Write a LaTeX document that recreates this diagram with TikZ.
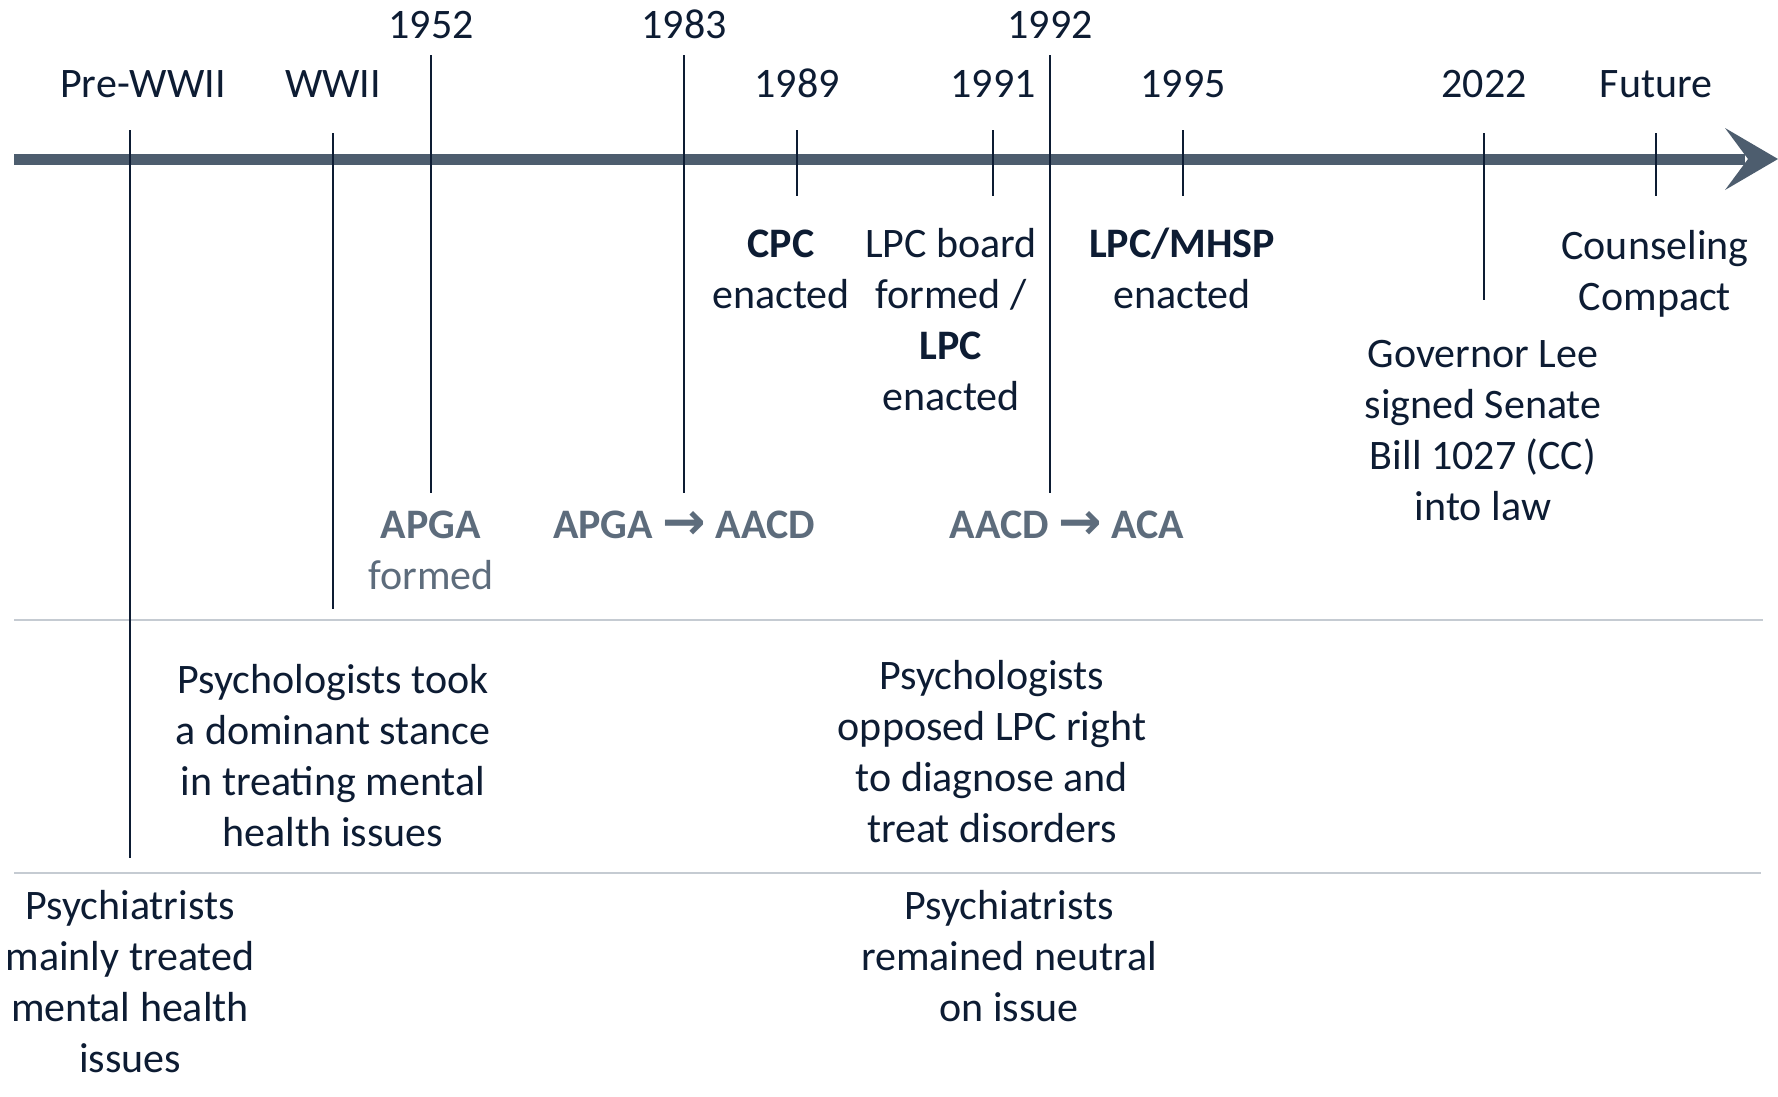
\documentclass[tikz,border=0pt]{standalone}
\usepackage{fontspec}
\setmainfont{Carlito}
\newfontfamily\arrowfont{DejaVu Sans}
\definecolor{navy}{HTML}{0D1C33}
\definecolor{grayt}{HTML}{5D6C7C}
\definecolor{axisc}{HTML}{4D5D6E}
\definecolor{sepgray}{HTML}{C5CBD2}
\newcommand{\fl}{\rule{0pt}{32pt}}
\newcommand{\rarr}{{\fontsize{52}{51}\arrowfont\bfseries\raisebox{-1pt}{→}}}
\begin{document}
\begin{tikzpicture}[x=1pt,y=-1pt,
  every node/.style={inner sep=0pt, text=navy, font=\fontsize{42}{51}\selectfont},
  lbl/.style={anchor=base},
  blk/.style={anchor=north, align=center},
  gry/.style={text=grayt},
  tickln/.style={draw=navy, line width=2.8pt},
  sepln/.style={draw=sepgray, line width=2pt}]
\fill[white] (0,0) rectangle (1778,1096);
\useasboundingbox (0,0) rectangle (1778,1096);

% separators
\coordinate (s1a) at (14,620); \coordinate (s1b) at (1763,620);
\coordinate (s2a) at (14,873); \coordinate (s2b) at (1761,873);
\draw[sepln] (s1a) -- (s1b);
\draw[sepln] (s2a) -- (s2b);

% axis
\coordinate (ax0) at (14,159);
\coordinate (ax1) at (1745,159);
\draw[draw=axisc, line width=11pt] (ax0) -- (ax1);
\fill[axisc] (1725,128) -- (1778,159) -- (1725,190) -- (1748,159) -- cycle;

% tick lines
\foreach \n/\x/\ya/\yb in {pre/130/130/858, ww/333/133/609, a/431/55/493, b/684/55/493,
  c/797/130/196, d/993/130/196, e/1050/55/493, f/1183/130/196, g/1484/133/300, h/1656/133/196}{
  \coordinate (\n t) at (\x,\ya);
  \coordinate (\n b) at (\x,\yb);
  \draw[tickln] (\n t) -- (\n b);
}

% top labels
\node[lbl] (lpre) at (143,97) {Pre-WWII};
\node[lbl] (lww) at (333,97) {WWII};
\node[lbl] (l52) at (431,38) {1952};
\node[lbl] (l83) at (684,38) {1983};
\node[lbl] (l89) at (797,97) {1989};
\node[lbl] (l91) at (993,97) {1991};
\node[lbl] (l92) at (1050,38) {1992};
\node[lbl] (l95) at (1183,97) {1995};
\node[lbl] (l22) at (1484,97) {2022};
\node[lbl] (lfu) at (1656,97) {Future};

% event texts
\node[blk] (cpc) at (781,225) {\fl\textbf{CPC}\\enacted};
\node[blk] (lpcb) at (951,225) {\fl LPC board\\formed /\\\textbf{LPC}\\enacted};
\node[blk] (mhsp) at (1182,225) {\fl\textbf{LPC/MHSP}\\enacted};
\node[blk] (cc) at (1655,227) {\fl Counseling\\Compact};
\node[blk] (gov) at (1483,335) {\fl Governor Lee\\signed Senate\\Bill 1027 (CC)\\into law};

\node[blk,gry] (apga) at (431,506) {\fl\textbf{APGA}\\formed};
\node[lbl,gry] (apgaacd) at (684,538) {\textbf{APGA \rarr\ AACD}};
\node[lbl,gry] (aacdaca) at (1067,538) {\textbf{AACD \rarr\ ACA}};

\node[blk] (psy1) at (333,661) {\fl Psychologists took\\a dominant stance\\in treating mental\\health issues};
\node[blk] (psy2) at (992,657) {\fl Psychologists\\opposed LPC right\\to diagnose and\\treat disorders};
\node[blk] (psc1) at (130,887) {\fl Psychiatrists\\mainly treated\\mental health\\issues};
\node[blk] (psc2) at (1009,887) {\fl Psychiatrists\\remained neutral\\on issue};
\end{tikzpicture}
\end{document}
